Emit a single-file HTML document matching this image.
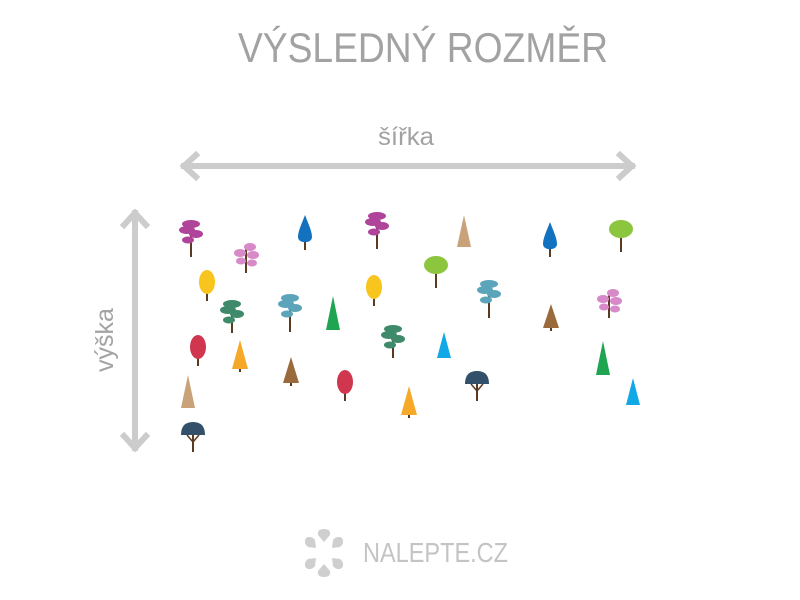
<!DOCTYPE html>
<html><head><meta charset="utf-8"><style>
html,body{margin:0;padding:0;background:#fff;width:800px;height:600px;overflow:hidden}
</style></head><body>
<svg id="s" width="800" height="600" viewBox="0 0 800 600" xmlns="http://www.w3.org/2000/svg">
<rect width="800" height="600" fill="#fff"/>
<text x="238" y="62" textLength="370" lengthAdjust="spacingAndGlyphs" font-family="Liberation Sans, sans-serif" font-size="42" fill="#a2a2a2">VÝSLEDNÝ ROZMĚR</text>
<text x="378" y="145" textLength="56" lengthAdjust="spacingAndGlyphs" font-family="Liberation Sans, sans-serif" font-size="25" fill="#a2a2a2">šířka</text>
<g stroke="#cccccc" stroke-width="6" fill="none" stroke-linecap="square">
<line x1="184" y1="166" x2="632" y2="166"/>
<polyline points="196,155 184,166 196,177"/>
<polyline points="620,155 632,166 620,177"/>
<line x1="135" y1="213" x2="135" y2="448"/>
<polyline points="124,225 135,213 146,225"/>
<polyline points="124,436 135,448 146,436"/>
</g>
<text transform="translate(113,340) rotate(-90)" text-anchor="middle" font-family="Liberation Sans, sans-serif" font-size="25" fill="#a2a2a2">výška</text>
<g id="trees"></g>
<g fill="#cfcfcf">
<path d="M324,529 q7,0 6,6 l-6,7 l-6,-7 q-1,-6 6,-6z"/>
<path d="M324,577 q7,0 6,-6 l-6,-7 l-6,7 q-1,6 6,6z"/>
<path d="M306,538 q5,-3 9,2 l1,8 l-8,-1 q-5,-4 -2,-9z"/>
<path d="M342,538 q-5,-3 -9,2 l-1,8 l8,-1 q5,-4 2,-9z"/>
<path d="M306,568 q5,3 9,-2 l1,-8 l-8,1 q-5,4 -2,9z"/>
<path d="M342,568 q-5,3 -9,-2 l-1,-8 l8,1 q5,4 2,9z"/>
</g>
<text x="363" y="562" textLength="145" lengthAdjust="spacingAndGlyphs" font-family="Liberation Sans, sans-serif" font-size="28" fill="#c4c4c4">NALEPTE.CZ</text>
</svg>
<script>
const T=[
['pine',191,220,257,'#b0449b'],['drop',305,215,250,'#1372c0'],['pine',377,212,249,'#b0449b'],['cone',464,215,247,'#c9a27a'],
['drop',550,222,257,'#1372c0'],['round',621,220,252,'#8cc63f'],['pink',246,243,273,'#d889c8'],['oval',207,270,301,'#f7c51e'],
['round',436,256,288,'#8cc63f'],['oval',374,275,306,'#f7c51e'],['pine',489,280,318,'#5ba4ba'],['pink',609,289,318,'#d889c8'],
['pine',232,300,333,'#3f8a6a'],['pine',290,294,332,'#5ba4ba'],['cone',333,296,330,'#1fa552'],['fir',551,304,331,'#9a6a3c'],
['pine',393,325,358,'#3f8a6a'],['cone',444,332,358,'#10a8e6'],['oval',198,335,366,'#d0374f'],['fir',240,340,372,'#f6a929'],
['fir',291,357,386,'#9a6a3c'],['cone',603,341,375,'#1fa552'],['oval',345,370,401,'#d0374f'],['mush',477,371,401,'#33506b'],
['fir',409,386,418,'#f6a929'],['cone',188,375,408,'#c9a27a'],['cone',633,378,405,'#10a8e6'],['mush',193,422,452,'#33506b']];
let h='';const tr='#5b3a22';
for(const [k,x,t,b,c] of T){const H=b-t;
 if(k=='cone'){h+=`<polygon points="${x},${t} ${x-7},${b} ${x+7},${b}" fill="${c}"/>`;}
 else if(k=='fir'){h+=`<line x1="${x}" y1="${b-4}" x2="${x}" y2="${b}" stroke="${tr}" stroke-width="2"/><polygon points="${x},${t} ${x-8},${b-3} ${x+8},${b-3}" fill="${c}"/>`;}
 else if(k=='drop'){h+=`<line x1="${x}" y1="${t+10}" x2="${x}" y2="${b}" stroke="${tr}" stroke-width="2"/><path d="M${x},${t} C${x+3},${t+8} ${x+7},${t+16} ${x+7},${t+22} C${x+7},${t+29} ${x-7},${t+29} ${x-7},${t+22} C${x-7},${t+16} ${x-3},${t+8} ${x},${t}z" fill="${c}"/>`;}
 else{
  h+=`<line x1="${x}" y1="${t+6}" x2="${x}" y2="${b}" stroke="${tr}" stroke-width="2"/>`;
  if(k=='round'){h+=`<ellipse cx="${x}" cy="${t+9}" rx="12" ry="9" fill="${c}"/>`;}
  else if(k=='oval'){h+=`<ellipse cx="${x}" cy="${t+12}" rx="8" ry="12" fill="${c}"/>`;}
  else if(k=='mush'){h+=`<path d="M${x-12},${t+13} q0,-13 12,-13 q12,0 12,13z" fill="${c}"/><path d="M${x},${t+20} l-6,-7 M${x},${t+20} l6,-7" stroke="${tr}" stroke-width="1.5"/>`;}
  else if(k=='pink'){h+=`<ellipse cx="${x-6}" cy="${t+10}" rx="6" ry="4" fill="${c}"/><ellipse cx="${x+4}" cy="${t+4}" rx="6" ry="4" fill="${c}"/><ellipse cx="${x+7}" cy="${t+12}" rx="6" ry="4" fill="${c}"/><ellipse cx="${x-5}" cy="${t+18}" rx="5" ry="3.5" fill="${c}"/><ellipse cx="${x+6}" cy="${t+20}" rx="5" ry="3.5" fill="${c}"/>`;}
  else{h+=`<ellipse cx="${x}" cy="${t+4}" rx="9" ry="4" fill="${c}"/><ellipse cx="${x-4}" cy="${t+10}" rx="8" ry="4" fill="${c}"/><ellipse cx="${x+5}" cy="${t+14}" rx="7" ry="4" fill="${c}"/><ellipse cx="${x-3}" cy="${t+20}" rx="6" ry="3.5" fill="${c}"/>`;}
 }}
document.getElementById('trees').innerHTML=h;
</script>
</body></html>
